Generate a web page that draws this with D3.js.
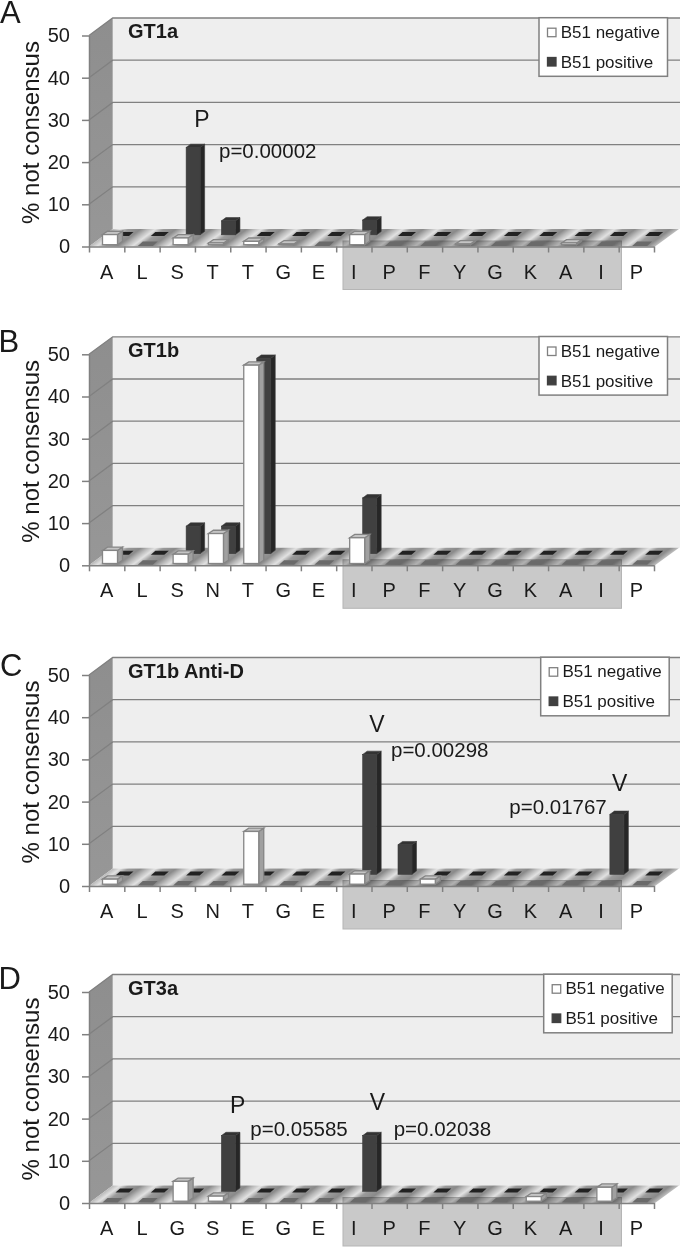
<!DOCTYPE html>
<html>
<head>
<meta charset="utf-8">
<script src="https://cdn.jsdelivr.net/npm/d3@7"></script>
<style>
  html, body { margin: 0; padding: 0; background: #fff; }
  svg { display: block; }
  text { font-family: "Liberation Sans", Arial, sans-serif; fill: #1a1a1a; }
</style>
</head>
<body>
<div id="graf"></div>
<script>
// values, % not consensus per residue
const titles = ["GT1a", "GT1b", "GT1b Anti-D", "GT3a"]
const letters = ["A", "B", "C", "D"]
const residuesA = ["A", "L", "S", "T", "T", "G", "E", "I", "P", "F", "Y", "G", "K", "A", "I", "P"]
const residuesB = ["A", "L", "S", "N", "T", "G", "E", "I", "P", "F", "Y", "G", "K", "A", "I", "P"]
const residuesC = ["A", "L", "S", "N", "T", "G", "E", "I", "P", "F", "Y", "G", "K", "A", "I", "P"]
const residuesD = ["A", "L", "G", "S", "E", "G", "E", "I", "P", "F", "Y", "G", "K", "A", "I", "P"]
const negA = [2.4, 0, 1.6, 0.4, 0.8, 0.2, 0, 2.4, 0, 0, 0.2, 0, 0, 0.4, 0, 0]
const posA = [0, 0, 20.7, 3.3, 0, 0, 0, 3.5, 0, 0, 0, 0, 0, 0, 0, 0]
const negB = [3.1, 0, 2.2, 7.1, 47, 0, 0, 6.1, 0, 0, 0, 0, 0, 0, 0, 0]
const posB = [0, 0, 6.5, 6.5, 46.3, 0, 0, 13.2, 0, 0, 0, 0, 0, 0, 0, 0]
const negC = [1.2, 0, 0, 0, 12.5, 0, 0, 2.4, 0, 1.2, 0, 0, 0, 0, 0, 0]
const posC = [0, 0, 0, 0, 0, 0, 0, 28.4, 7, 0, 0, 0, 0, 0, 14.2, 0]
const negD = [0, 0, 4.7, 1.2, 0, 0, 0, 0, 0, 0, 0, 0, 1.1, 0, 3.3, 0]
const posD = [0, 0, 0, 13.2, 0, 0, 0, 13.2, 0, 0, 0, 0, 0, 0, 0, 0]
const seriesNames = ["B51 negative", "B51 positive"]
const yTicks = [0, 10, 20, 30, 40, 50]

const residues = [residuesA, residuesB, residuesC, residuesD]
const negatives = [negA, negB, negC, negD]
const positives = [posA, posB, posC, posD]

// layout of each panel, kept apart from the values
const baseY = [246.5, 565.3, 886, 1203]
const legendX = [539, 539, 540.7, 543.7]
const letterPos = [[0, 23.2], [-1.5, 352], [0, 675.7], [-1.5, 988.7]]
const notes = [
  [["P", 202, 126.7, "big"], ["p=0.00002", 219, 158.3, "p"]],
  [],
  [["V", 377, 731.7, "big"], ["p=0.00298", 391, 757.3, "p"], ["V", 619.7, 791, "big"], ["p=0.01767", 509.3, 814.3, "p"]],
  [["P", 237.7, 1113, "big"], ["p=0.05585", 250.3, 1135.7, "p"], ["V", 377.3, 1110.3, "big"], ["p=0.02038", 393.7, 1136.3, "p"]]
]

const anchoTotal = 680
const altoTotal = 1248
const left = 89
const right = 654
const backDx = 23.7
const backDy = 17.5
const grey = "#808080"

const svg = d3.select("#graf")
  .append("svg")
  .attr("width", anchoTotal)
  .attr("height", altoTotal)

const defs = svg.append("defs")

const wallGrad = defs.append("linearGradient").attr("id", "wallGrad").attr("x1", 0).attr("x2", 0).attr("y1", 0).attr("y2", 1)
wallGrad.append("stop").attr("offset", 0).attr("stop-color", "#8e8e8e")
wallGrad.append("stop").attr("offset", 1).attr("stop-color", "#979797")

const stripeGrad = defs.append("linearGradient").attr("id", "stripeGrad")
const stripeStops = [[0, "#b8b8b8"], [0.22, "#e2e2e2"], [0.45, "#9a9a9a"], [0.8, "#8a8a8a"], [1, "#b8b8b8"]]
stripeStops.forEach((s) => stripeGrad.append("stop").attr("offset", s[0]).attr("stop-color", s[1]))

const x = d3.scaleBand().domain(d3.range(16)).range([left, right])
const xEdges = d3.scaleLinear().domain([0, 16]).range([0, right - left])
const y = d3.scaleLinear().domain([0, 50]).range([0, -211])

const poly = (pts) => "M" + pts.map((p) => p.join(",")).join("L") + "Z"

// one box: front face, side and top, sitting on the floor
const drawBox = (g, x0, w, base, h, c, dx, dy) => {
  g.append("path")
    .attr("d", poly([[x0 + w, base], [x0 + w + dx, base - dy], [x0 + w + dx, base - h - dy], [x0 + w, base - h]]))
    .attr("fill", c.side).attr("stroke", c.line).attr("stroke-width", c.sw)
  g.append("path")
    .attr("d", poly([[x0, base - h], [x0 + dx, base - h - dy], [x0 + w + dx, base - h - dy], [x0 + w, base - h]]))
    .attr("fill", c.top).attr("stroke", c.line).attr("stroke-width", c.sw)
  g.append("rect")
    .attr("x", x0).attr("y", base - h).attr("width", w).attr("height", h)
    .attr("fill", c.front).attr("stroke", c.line).attr("stroke-width", c.sw)
}

const whiteBox = { front: "#fff", side: "#a0a0a0", top: "#c4c4c4", line: "#858585", sw: 1.3 }
const darkBox = { front: "#404040", side: "#262626", top: "#333", line: "#3a3a3a", sw: 0.6 }

const drawPanel = (i) => {
  const y0 = baseY[i]
  const g = svg.append("g")

  // stripes on the floor, one period per residue
  defs.append("pattern")
    .attr("id", "floor" + i)
    .attr("patternUnits", "userSpaceOnUse")
    .attr("width", x.bandwidth())
    .attr("height", 40)
    .attr("patternTransform", `translate(${left}, ${y0}) skewX(-53.6)`)
    .append("rect")
    .attr("width", x.bandwidth())
    .attr("height", 40)
    .attr("fill", "url(#stripeGrad)")

  // back wall
  g.append("rect")
    .attr("x", left + backDx).attr("y", y0 + y(50) - backDy)
    .attr("width", anchoTotal - left - backDx)
    .attr("height", 211)
    .attr("fill", "#eeeeee")

  // side wall
  g.append("path")
    .attr("d", poly([[left, y0], [left, y0 + y(50)], [left + backDx, y0 + y(50) - backDy], [left + backDx, y0 - backDy]]))
    .attr("fill", "url(#wallGrad)")

  // grid lines on both walls
  yTicks.slice(1).forEach((t) => {
    g.append("path")
      .attr("d", `M${left},${y0 + y(t)}L${left + backDx},${y0 + y(t) - backDy}L${anchoTotal},${y0 + y(t) - backDy}`)
      .attr("fill", "none")
      .attr("stroke", grey)
      .attr("stroke-width", 1.3)
  })

  g.append("path")
    .attr("d", poly([[left, y0], [left + backDx, y0 - backDy], [anchoTotal - 1, y0 - backDy], [right + 1, y0]]))
    .attr("fill", `url(#floor${i})`)

  // epitope region behind the residue labels
  g.append("rect")
    .attr("x", x(7) + 6.8)
    .attr("y", y0 - 5.5)
    .attr("width", x(15) - x(7) - 4)
    .attr("height", 48.5)
    .attr("fill", "#c9c9c9")
    .attr("stroke", "#b5b5b5")
    .style("mix-blend-mode", "multiply")

  // back row first so the white bars sit in front of it
  positives[i].forEach((v, k) => {
    const x0 = x(k) + 26.5
    if (v > 0) drawBox(g, x0, 14, y0 - 11.7, -y(v), darkBox, 4.5, 3.3)
    else g.append("path")
      .attr("d", poly([[x0, y0 - 10.5], [x0 + 4.5, y0 - 14.5], [x0 + 18, y0 - 14.5], [x0 + 13.5, y0 - 10.5]]))
      .attr("fill", "#222")
  })

  negatives[i].forEach((v, k) => {
    const x0 = x(k) + 13.5
    if (v > 0) drawBox(g, x0, 15, y0 - 1.8, -y(v), whiteBox, 5, 3.3)
    else g.append("path")
      .attr("d", poly([[x0, y0 - 0.5], [x0 + 5, y0 - 5], [x0 + 20, y0 - 5], [x0 + 15, y0 - 0.5]]))
      .attr("fill", "#6a6a6a")
  })

  // axes
  const yAxis = d3.axisLeft(y).tickValues(yTicks).tickSize(7).tickPadding(12).tickSizeOuter(0)
  const gy = g.append("g")
    .attr("transform", `translate(${left}, ${y0})`)
    .call(yAxis)
  gy.selectAll("text").style("font-size", "20px").style("font-family", "Liberation Sans").attr("fill", "#1a1a1a")
  gy.selectAll("line").attr("stroke", grey).attr("stroke-width", 1.5)
  gy.select(".domain").attr("stroke", grey).attr("stroke-width", 1.5)

  const edgeAxis = d3.axisBottom(xEdges).ticks(16).tickSize(6).tickSizeOuter(0).tickFormat("")
  const ge = g.append("g")
    .attr("transform", `translate(${left}, ${y0})`)
    .call(edgeAxis)
  ge.selectAll("line").attr("stroke", grey).attr("stroke-width", 1.5)
  ge.select(".domain").attr("stroke", grey).attr("stroke-width", 1.5)

  const xAxis = d3.axisBottom(x).tickSize(0).tickPadding(18).tickFormat((k) => residues[i][k])
  const gx = g.append("g")
    .attr("transform", `translate(0, ${y0})`)
    .call(xAxis)
  gx.select(".domain").remove()
  gx.selectAll("text").style("font-size", "20px").style("font-family", "Liberation Sans").attr("fill", "#1a1a1a")

  g.append("text")
    .attr("transform", `translate(39, ${y0 - 114}) rotate(-90)`)
    .attr("text-anchor", "middle")
    .style("font-size", "24px")
    .text("% not consensus")

  g.append("text")
    .attr("x", letterPos[i][0])
    .attr("y", letterPos[i][1])
    .style("font-size", "31px")
    .text(letters[i])

  g.append("text")
    .attr("x", 128)
    .attr("y", y0 - 208.2)
    .style("font-size", "20px")
    .style("font-weight", "bold")
    .text(titles[i])

  // legend
  const lx = legendX[i]
  const ly = y0 + y(50) - backDy - 0.3
  g.append("rect")
    .attr("x", lx).attr("y", ly)
    .attr("width", 128.5).attr("height", 58.6)
    .attr("fill", "#fff")
    .attr("stroke", grey)
    .attr("stroke-width", 1.5)
  seriesNames.forEach((name, k) => {
    g.append("rect")
      .attr("x", lx + 8.5).attr("y", ly + 10.5 + k * 29.3)
      .attr("width", 8.5).attr("height", 8.5)
      .attr("fill", k == 0 ? "#fff" : "#404040")
      .attr("stroke", k == 0 ? grey : "#404040")
      .attr("stroke-width", 1.3)
    g.append("text")
      .attr("x", lx + 21.7)
      .attr("y", ly + 20 + k * 30)
      .style("font-size", "17px")
      .text(name)
  })

  notes[i].forEach((n) => {
    g.append("text")
      .attr("x", n[1])
      .attr("y", n[2])
      .attr("text-anchor", n[3] == "big" ? "middle" : "start")
      .style("font-size", n[3] == "big" ? "23px" : "20.5px")
      .text(n[0])
  })
}

d3.range(4).forEach(drawPanel)
</script>
</body>
</html>
